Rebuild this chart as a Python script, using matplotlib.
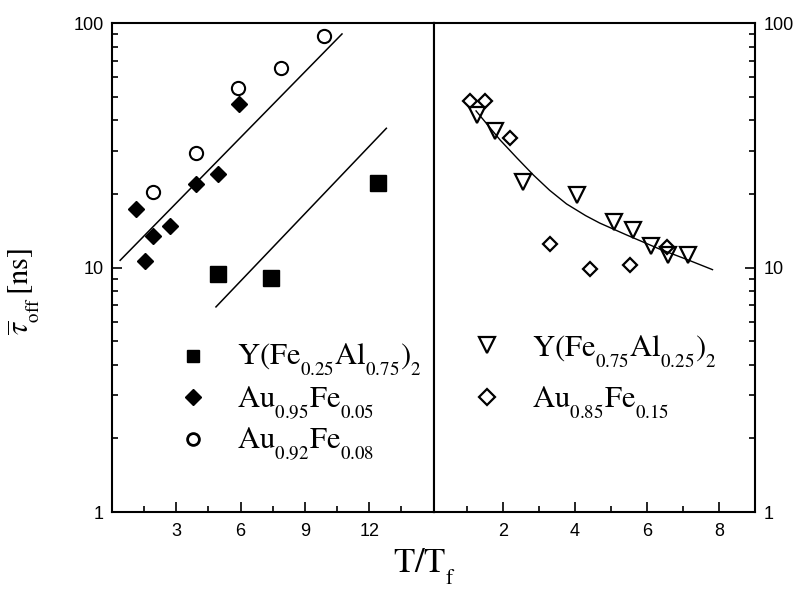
import numpy as np
import matplotlib
matplotlib.use("Agg")
from matplotlib import pyplot as plt
from matplotlib import _mathtext

plt.rcParams['font.family'] = ['Liberation Sans', 'DejaVu Sans']
plt.rcParams['mathtext.fontset'] = 'stix'
# smaller, lower subscripts for the alloy names
_mathtext.SHRINK_FACTOR = 0.62
_mathtext.STIXFontConstants.sub1 = 0.8

# left panel: T/Tf up to 15
sq_x = [4.95, 7.44, 12.43]
sq_y = [9.4, 9.1, 22.2]
dia_x = [1.12, 1.54, 1.92, 2.72, 3.92, 4.95, 5.92]
dia_y = [17.4, 10.6, 13.5, 14.8, 21.9, 24.1, 46.5]
circ_x = [1.89, 3.92, 5.89, 7.87, 9.87]
circ_y = [20.4, 29.5, 54.1, 65.3, 88.7]
fit_au_x = [0.38, 10.73]
fit_au_y = [10.7, 90.2]
fit_y_x = [4.85, 12.8]
fit_y_y = [6.9, 37.1]

# right panel: T/Tf up to 9
tri_x = [1.28, 1.78, 2.57, 4.06, 5.10, 5.61, 6.12, 6.58, 7.13]
tri_y = [42.0, 36.0, 22.4, 19.8, 15.4, 14.3, 12.2, 11.3, 11.3]
odia_x = [1.08, 1.51, 2.20, 3.31, 4.43, 5.52, 6.55]
odia_y = [48.0, 48.0, 33.8, 12.5, 9.9, 10.2, 12.1]
curve_x = [1.26, 1.5, 1.93, 2.4, 2.85, 3.3, 3.77, 4.3, 4.69, 5.43, 6.35, 7.1, 7.82]
curve_y = [43.7, 39.6, 33.2, 28.0, 23.9, 20.7, 18.2, 16.3, 15.2, 13.6, 11.9, 10.8, 9.8]

lab_sq = r'$\mathrm{Y(Fe_{0.25}Al_{0.75})_2}$'
lab_dia = r'$\mathrm{Au_{0.95}Fe_{0.05}}$'
lab_circ = r'$\mathrm{Au_{0.92}Fe_{0.08}}$'
lab_tri = r'$\mathrm{Y(Fe_{0.75}Al_{0.25})_2}$'
lab_odia = r'$\mathrm{Au_{0.85}Fe_{0.15}}$'

sty_sq = dict(marker='s', color='k', ls='none')
sty_dia = dict(marker='D', color='k', ls='none')
sty_circ = dict(marker='o', mfc='white', mec='k', ls='none')
sty_tri = dict(marker='v', mfc='none', mec='k', mew=1.6, ls='none')
sty_odia = dict(marker='D', mfc='none', mec='k', mew=1.6, ls='none')


def key(ax, rows, x, y0, dy, lift, tx):
    # hand-placed key: marker + label per row, axes coordinates
    for i, (sty, size, label) in enumerate(rows):
        y = y0 - i * dy
        ax.plot([x], [y + lift], transform=ax.transAxes, clip_on=False,
                ms=size, **sty)
        ax.text(tx, y, label, transform=ax.transAxes, fontsize=22,
                va='baseline', ha='left')


fig = plt.figure(figsize=(8, 5.9), dpi=100)
ax1 = fig.add_axes([0.14, 0.1322, 0.4019, 0.8288])
ax2 = fig.add_axes([0.5419, 0.1322, 0.4019, 0.8288])

ax1.plot(fit_au_x, fit_au_y, 'k-', lw=1.1)
ax1.plot(fit_y_x, fit_y_y, 'k-', lw=1.1)
ax1.plot(sq_x, sq_y, ms=11, **sty_sq)
ax1.plot(dia_x, dia_y, ms=8.2, **sty_dia)
ax1.plot(circ_x, circ_y, ms=9.5, mew=1.5, **sty_circ)

ax2.plot(curve_x, curve_y, 'k-', lw=1.0)
ax2.plot(tri_x, tri_y, ms=11.5, **sty_tri)
ax2.plot(odia_x, odia_y, ms=7.5, **sty_odia)

for ax in (ax1, ax2):
    ax.set_yscale('log')
    ax.set_ylim(1, 100)
    for s in ax.spines.values():
        s.set_linewidth(1.5)
    ax.tick_params(which='both', direction='in', labelsize=13, width=1.2)
    ax.tick_params(which='major', length=7)
    ax.tick_params(which='minor', length=4)
    ax.tick_params(axis='x', pad=8)
    ax.tick_params(axis='y', pad=6)

ax1.set_xlim(0, 15)
ax1.set_xticks([3, 6, 9, 12])
ax1.set_xticks(np.arange(1.5, 15, 3), minor=True)
ax1.set_yticks([1, 10, 100])
ax1.set_yticklabels(['1', '10', '100'])
ax1.tick_params(which='both', top=False, right=False)

ax2.set_xlim(0.08, 9)
ax2.set_xticks([2, 4, 6, 8])
ax2.set_xticks([1, 3, 5, 7], minor=True)
ax2.yaxis.tick_right()
ax2.set_yticks([1, 10, 100])
ax2.set_yticklabels(['1', '10', '100'])
ax2.tick_params(which='both', top=False, left=False, right=True)

key(ax1, [(sty_sq, 9, lab_sq),
          (sty_dia, 8, lab_dia),
          (dict(sty_circ, mew=2), 8.5, lab_circ)],
    x=0.251, y0=0.3006, dy=0.085, lift=0.019, tx=0.388)
key(ax2, [(sty_tri, 12, lab_tri),
          (sty_odia, 8, lab_odia)],
    x=0.1655, y0=0.3176, dy=0.105, lift=0.0235, tx=0.3054)

fig.text(0.53, 0.03, r'$\mathrm{T/T_f}$', fontsize=25, ha='center')
fig.text(0.03, 0.505, r'$\overline{\tau}_{\mathrm{off}}\,\mathrm{[ns]}$',
         fontsize=22, rotation=90, va='center', ha='center')

plt.savefig('out.png', dpi=100)
